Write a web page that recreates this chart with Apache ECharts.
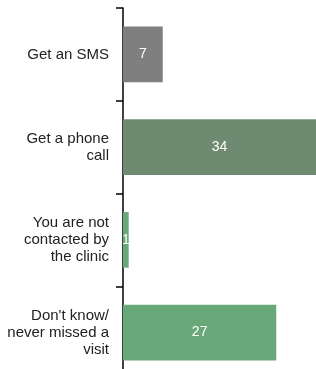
<!DOCTYPE html>
<html>
<head>
<meta charset="utf-8">
<script src="https://cdn.jsdelivr.net/npm/echarts@6/dist/echarts.min.js"></script>
<style>html,body{margin:0;padding:0;background:#fff;overflow:hidden;width:316px;height:369px;}#c{width:316px;height:380px;}</style>
</head>
<body>
<div id="c"></div>
<script>
var categories = ["Get an SMS", "Get a phone\ncall", "You are not\ncontacted by\nthe clinic", "Don't know/\nnever missed a\nvisit"];
var values = [7, 34, 1, 27];
var colors = ["#7f7f7f", "#6e8b72", "#69a878", "#69a878"];

var chart = echarts.init(document.getElementById('c'), null, {renderer: 'canvas'});
chart.setOption({
  animation: false,
  grid: {left: 123, top: 8, right: -1, bottom: 1, containLabel: false},
  xAxis: {type: 'value', min: 0, max: 34, show: false},
  yAxis: {
    type: 'category', data: categories, inverse: true,
    axisLine: {show: true, lineStyle: {color: '#000', width: 1.5}},
    axisTick: {show: true, length: 7, lineStyle: {color: '#000', width: 1.5}},
    axisLabel: {color: '#222', fontFamily: 'Liberation Sans, Arial, sans-serif', fontSize: 15, lineHeight: 17, margin: 14, align: 'right'}
  },
  series: [{
    type: 'bar', barWidth: '60%',
    data: values.map(function(v, i){ return {value: v, itemStyle: {color: colors[i]}}; }),
    label: {show: true, position: 'inside', color: '#fff', fontFamily: 'Liberation Sans, Arial, sans-serif', fontSize: 14}
  }]
});
</script>
</body>
</html>
